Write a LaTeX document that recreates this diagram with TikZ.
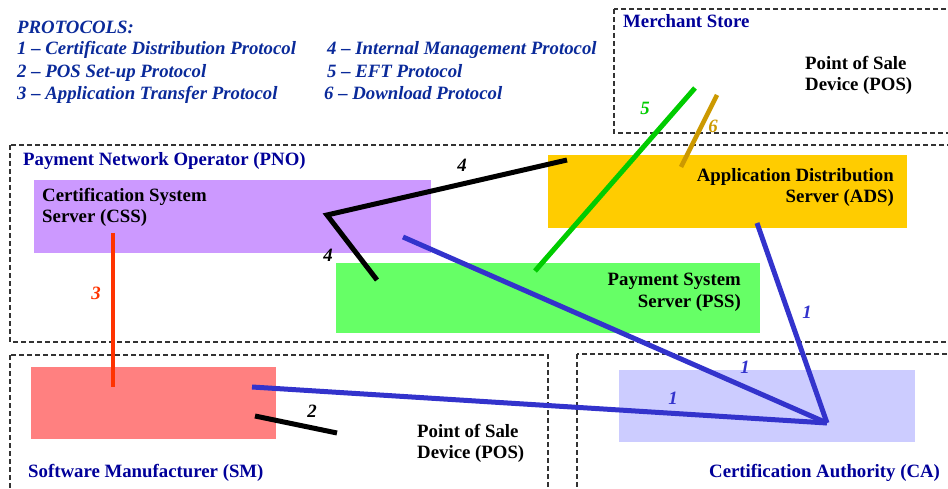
\documentclass[tikz,border=0pt]{standalone}
\usepackage{fontspec}
\setmainfont{Liberation Serif}
\definecolor{legblue}{HTML}{0A2A9A}
\definecolor{headblue}{HTML}{000099}
\definecolor{cssfill}{HTML}{CC99FF}
\definecolor{adsfill}{HTML}{FFCC00}
\definecolor{pssfill}{HTML}{66FF66}
\definecolor{smfill}{HTML}{FF8080}
\definecolor{cafill}{HTML}{CCCCFF}
\definecolor{pblue}{HTML}{3333CC}
\definecolor{pred}{HTML}{FF3300}
\definecolor{pgreen}{HTML}{00CC00}
\definecolor{pgold}{HTML}{CC9900}
\definecolor{dashgray}{HTML}{333333}
\tikzset{
  txt/.style={inner sep=0pt, font=\fontsize{18.8}{21}\selectfont\bfseries},
  legtxt/.style={txt, anchor=base west, text=legblue, font=\fontsize{18.8}{21}\selectfont\bfseries\itshape},
  headtxt/.style={txt, anchor=base west, text=headblue},
  boxtxtl/.style={txt, anchor=base west},
  boxtxtr/.style={txt, anchor=base east},
  numlbl/.style={txt, anchor=center, font=\fontsize{18.8}{21}\selectfont\bfseries\itshape},
  server/.style={draw=none, anchor=north west, inner sep=0pt, outer sep=0pt},
  zone/.style={draw=dashgray, line width=1.2pt, dash pattern=on 5pt off 3pt},
  conn/.style={line width=5pt}
}
\begin{document}
\begin{tikzpicture}[x=1pt,y=-1pt]
\useasboundingbox (0,0) rectangle (948,489);
\clip (0,0) rectangle (948,489);
% legend
\node[legtxt] (legh) at (17,34) {PROTOCOLS:};
\node[legtxt] (leg1) at (17,55) {1 -- Certificate Distribution Protocol};
\node[legtxt] (leg2) at (17,77.5) {2 -- POS Set-up Protocol};
\node[legtxt] (leg3) at (17,100) {3 -- Application Transfer Protocol};
\node[legtxt] (leg4) at (327,55) {4 -- Internal Management Protocol};
\node[legtxt] (leg5) at (327,77.5) {5 -- EFT Protocol};
\node[legtxt] (leg6) at (324,100) {6 -- Download Protocol};
% zones
\draw[zone] (614,9) rectangle (1000,133);
\draw[zone] (10,145) rectangle (1000,342);
\draw[zone] (10,355) rectangle (548,520);
\draw[zone] (577,354) rectangle (1000,520);
\node[headtxt] (ms) at (623,28) {Merchant Store};
\node[boxtxtl] (pos1a) at (805,70) {Point of Sale};
\node[boxtxtl] (pos1b) at (805,91) {Device (POS)};
\node[headtxt] (pno) at (23,166) {Payment Network Operator (PNO)};
\node[headtxt] (sm) at (28,477) {Software Manufacturer (SM)};
\node[headtxt] (ca) at (709,477) {Certification Authority (CA)};
% servers
\node[server, fill=cssfill, minimum width=397pt, minimum height=73pt] (css) at (34,180) {};
\node[server, fill=adsfill, minimum width=359pt, minimum height=73pt] (ads) at (548,155) {};
\node[server, fill=pssfill, minimum width=424pt, minimum height=70pt] (pss) at (336,263) {};
\node[server, fill=smfill, minimum width=245pt, minimum height=72pt] (smb) at (31,367) {};
\node[server, fill=cafill, minimum width=296pt, minimum height=72pt] (cab) at (619,370) {};
\node[boxtxtl] (cssa) at (42,202) {Certification System};
\node[boxtxtl] (cssb) at (42,223) {Server (CSS)};
\node[boxtxtr] (adsa) at (894,182) {Application Distribution};
\node[boxtxtr] (adsb) at (894,203) {Server (ADS)};
\node[boxtxtr] (pssa) at (741,286) {Payment System};
\node[boxtxtr] (pssb) at (741,307) {Server (PSS)};
\node[boxtxtl] (pos2a) at (417,437) {Point of Sale};
\node[boxtxtl] (pos2b) at (417,458) {Device (POS)};
% connector end points
\coordinate (c4ads) at (567,160);
\coordinate (c4css) at (327,215);
\coordinate (c4pss) at (377,280);
\coordinate (c3css) at (113,233);
\coordinate (c3sm) at (113,387);
\coordinate (c5pos) at (695,88);
\coordinate (c5pss) at (535,271);
\coordinate (c6pos) at (717,95);
\coordinate (c6ads) at (681,167);
\coordinate (c1css) at (403,237);
\coordinate (c1ads) at (757,223);
\coordinate (c1sm) at (252,387);
\coordinate (c1ca) at (827,423);
\coordinate (c2sm) at (255,416);
\coordinate (c2pos) at (337,433);
% connectors
\draw[conn, black] (c4ads) -- (c4css) -- (c4pss);
\draw[conn, pred, line width=4.5pt] (c3css) -- (c3sm);
\draw[conn, pgreen] (c5pos) -- (c5pss);
\draw[conn, pgold, line width=4.5pt] (c6pos) -- (c6ads);
\draw[conn, pblue] (c1css) -- (c1ca);
\draw[conn, pblue] (c1ads) -- (c1ca);
\draw[conn, pblue] (c1sm) -- (c1ca);
\draw[conn, black] (c2sm) -- (c2pos);
% labels
\node[numlbl] (l4a) at (462,165) {4};
\node[numlbl] (l4b) at (328,255) {4};
\node[numlbl, text=pred] (l3) at (96,293) {3};
\node[numlbl, text=pgreen] (l5) at (645,108) {5};
\node[numlbl, text=pgold] (l6) at (713,126) {6};
\node[numlbl, text=pblue] (l1a) at (807,312) {1};
\node[numlbl, text=pblue] (l1b) at (745,367) {1};
\node[numlbl, text=pblue] (l1c) at (673,398) {1};
\node[numlbl] (l2) at (312,411) {2};
\end{tikzpicture}
\end{document}
